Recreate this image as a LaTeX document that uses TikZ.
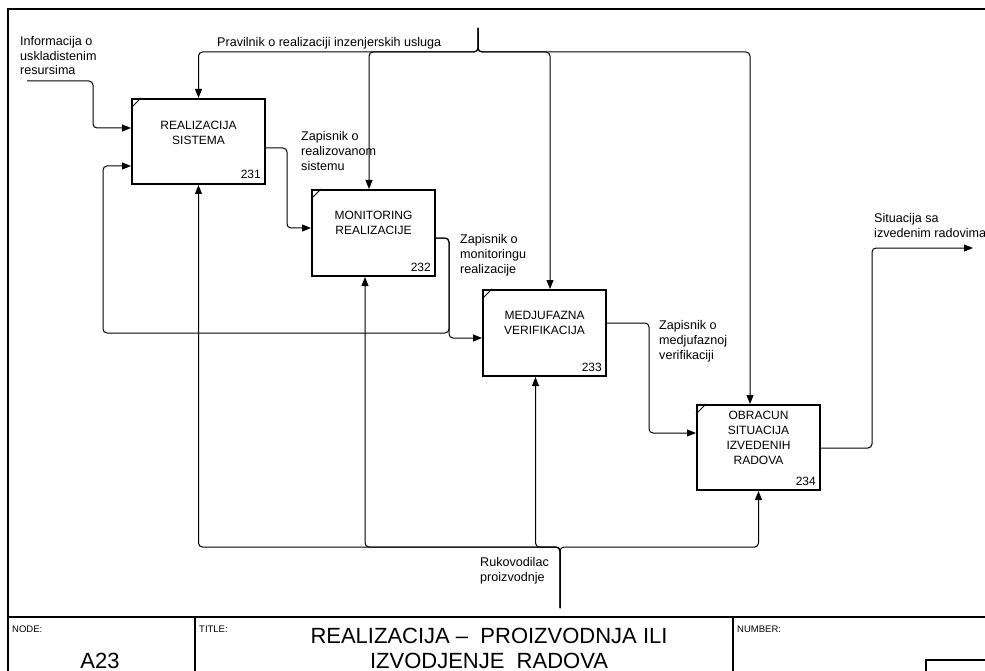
\documentclass[tikz,border=0pt]{standalone}
\usepackage{fontspec}
\setmainfont{Liberation Sans}
\usetikzlibrary{arrows.meta,calc}

\begin{document}
\begin{tikzpicture}[x=1pt,y=-1pt,
  frame/.style={line width=1.3pt},
  box/.style={draw,line width=2pt,inner sep=0pt,minimum width=123pt,minimum height=86pt},
  tick/.style={line width=1pt},
  boxtext/.style={align=center,font=\fontsize{12}{15}\selectfont,inner sep=0pt},
  boxnum/.style={anchor=base east,font=\fontsize{12}{15}\selectfont,inner sep=0pt},
  lbl/.style={align=left,anchor=base west,font=\fontsize{12.6}{14.8}\selectfont,inner sep=0pt},
  flow/.style={draw,line width=1pt,rounded corners=4pt,-{Triangle[length=9pt,width=7pt]}},
  small/.style={anchor=base west,font=\fontsize{9.5}{11}\selectfont,inner sep=0pt},
  big/.style={anchor=base,font=\fontsize{22}{26}\selectfont,inner sep=0pt}]

\useasboundingbox (0,0) rectangle (985,671);

% sheet frame and title block
\draw[frame] (8,671) -- (8,9) -- (985,9);
\draw[frame] (8,617) -- (985,617);
\draw[frame] (195,617) -- (195,671);
\draw[frame] (733,617) -- (733,671);
\draw[frame] (926,671) -- (926,660) -- (985,660);
\node[small] (hnode) at (12,632) {NODE:};
\node[small] (htitle) at (199,632) {TITLE:};
\node[small] (hnum) at (737,632) {NUMBER:};
\node[big] (nodeid) at (100,668) {A23};
\node[big] (title1) at (489,643) {REALIZACIJA –\ \ PROIZVODNJA ILI};
\node[big] (title2) at (489,668) {IZVODJENJE\ \ RADOVA};

% activity boxes
\node[box,minimum width=133pt,minimum height=85pt] (b1) at (198.5,141.5) {};
\node[box] (b2) at (373.5,233) {};
\node[box] (b3) at (544.5,333) {};
\node[box,minimum height=85pt] (b4) at (758.5,447.5) {};
\foreach \b in {b1,b2,b3,b4}
  \draw[tick] ($(\b.north west)+(0,10)$) -- ($(\b.north west)+(10,0)$);

\node[boxtext] (t1) at ($(b1.north)+(0,34.5)$) {REALIZACIJA\\SISTEMA};
\node[boxtext] (t2) at ($(b2.north)+(0,33.5)$) {MONITORING\\REALIZACIJE};
\node[boxtext] (t3) at ($(b3.north)+(0,33.5)$) {MEDJUFAZNA\\VERIFIKACIJA};
\node[boxtext] (t4) at ($(b4.north)+(0,33.5)$) {OBRACUN\\SITUACIJA\\IZVEDENIH\\RADOVA};
\node[boxnum] (n1) at ($(b1.south east)+(-5,-6)$) {231};
\node[boxnum] (n2) at ($(b2.south east)+(-5,-6)$) {232};
\node[boxnum] (n3) at ($(b3.south east)+(-5,-6)$) {233};
\node[boxnum] (n4) at ($(b4.south east)+(-5,-6)$) {234};

% boundary points
\coordinate (inA) at (27,81);
\coordinate (ctop) at (478,28);
\coordinate (tbar) at (478,52);
\coordinate (mbot) at (560,608);
\coordinate (mbar) at (560,547);
\coordinate (outA) at (973,248);

% input
\draw[flow] (inA) -- (93,81) -- (93,128) -- (b1.west |- 0,128);

% controls
\draw[flow] (ctop) -- (tbar) -| (b1.north);
\draw[flow] (ctop) -- (tbar) -| (369,0 |- b2.north);
\draw[flow] (ctop) -- (tbar) -| (550,0 |- b3.north);
\draw[flow] (ctop) -- (tbar) -| (750,0 |- b4.north);

% mechanisms
\draw[flow] (mbot) -- (mbar) -| (b1.south);
\draw[flow] (mbot) -- (mbar) -| (365,0 |- b2.south);
\draw[flow] (mbot) -- (mbar) -| (535.5,0 |- b3.south);
\draw[flow] (mbot) -- (mbar) -| (b4.south);

% outputs and feedback
\draw[flow] (b1.east |- 0,148) -- (287,148) -- (287,228) -- (b2.west |- 0,228);
\draw[flow] (b2.east |- 0,238) -- (449,238) -- (449,338) -- (b3.west |- 0,338);
\draw[flow] (b2.east |- 0,238) -- (449,238) -- (449,333) -- (103,333) -- (103,166) -- (b1.west |- 0,166);
\draw[flow] (b3.east |- 0,323) -- (649,323) -- (649,433) -- (b4.west |- 0,433);
\draw[flow] (b4.east |- 0,448) -- (872,448) -- (872,248) -- (outA);

% arrow labels (anchored at the baseline of their last line)
\node[lbl] (l1) at (20,75) {Informacija o\\uskladistenim\\resursima};
\node[lbl] (l2) at (217,47) {Pravilnik o realizaciji inzenjerskih usluga};
\node[lbl] (l3) at (301,170.5) {Zapisnik o\\realizovanom\\sistemu};
\node[lbl] (l4) at (460,273.5) {Zapisnik o\\monitoringu\\realizacije};
\node[lbl] (l5) at (659,359.5) {Zapisnik o\\medjufaznoj\\verifikaciji};
\node[lbl] (l6) at (874,237.5) {Situacija sa\\izvedenim radovima};
\node[lbl] (l7) at (480,581.5) {Rukovodilac\\proizvodnje};
\end{tikzpicture}
\end{document}
